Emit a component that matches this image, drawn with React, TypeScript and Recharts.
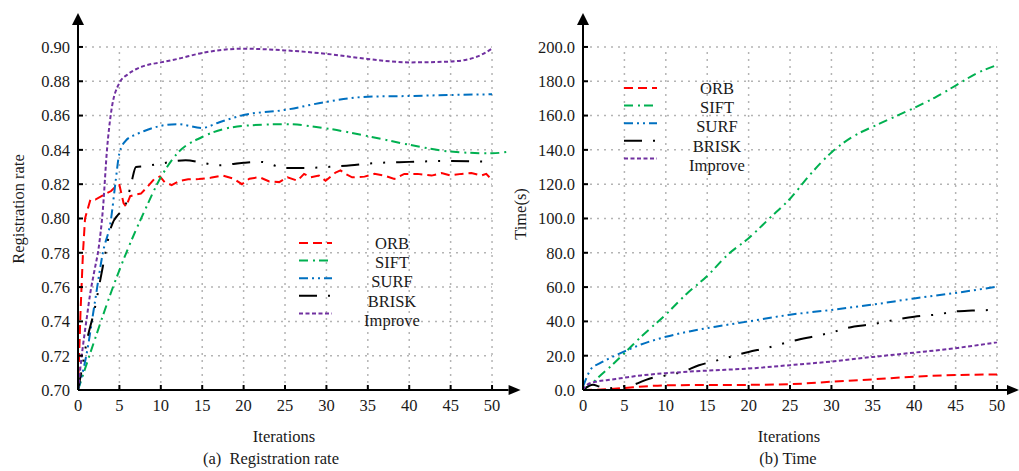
import React from "react";
import { LineChart, Line, XAxis, YAxis, ReferenceLine, ReferenceDot, Legend } from "recharts";

// shared axes
const iterTicks = [0, 5, 10, 15, 20, 25, 30, 35, 40, 45, 50];
const rateTicks = [0.7, 0.72, 0.74, 0.76, 0.78, 0.8, 0.82, 0.84, 0.86, 0.88, 0.9];
const timeTicks = [0, 20, 40, 60, 80, 100, 120, 140, 160, 180, 200];

// (a) registration rate
const orbRateX = [0, 0.3, 0.6, 0.85, 1.2, 1.5, 2.1, 3, 4, 4.6, 5, 5.5, 5.8, 6.3, 7, 7.6, 8.3, 9.2, 9.9, 10.5, 11.3, 12.3, 13.3, 14.6, 16, 17.4, 18.8, 19.8, 20.7, 21.9, 23.1, 24.3, 25.3, 26.5, 27.3, 28.1, 29.1, 29.9, 31.1, 31.7, 32.3, 33.1, 34.6, 35.8, 37, 38.2, 39.4, 41, 42.7, 43.9, 45, 46.3, 47.5, 48.7, 49.3, 49.7, 50];
const orbRateY = [0.7, 0.745, 0.78, 0.8, 0.806, 0.811, 0.811, 0.8135, 0.816, 0.819, 0.8195, 0.809, 0.807, 0.813, 0.814, 0.8145, 0.818, 0.823, 0.8245, 0.821, 0.8195, 0.822, 0.8228, 0.823, 0.8237, 0.8251, 0.8232, 0.82, 0.8232, 0.8241, 0.8216, 0.8212, 0.824, 0.822, 0.826, 0.824, 0.825, 0.822, 0.8268, 0.828, 0.826, 0.824, 0.8244, 0.826, 0.825, 0.823, 0.826, 0.826, 0.825, 0.8265, 0.8251, 0.826, 0.8265, 0.825, 0.826, 0.824, 0.823];
const siftRateX = [0, 2, 4, 6, 8, 10, 12, 15, 20, 25, 30, 35, 40, 45, 50, 52];
const siftRateY = [0.7, 0.729, 0.757, 0.782, 0.804, 0.824, 0.838, 0.8475, 0.854, 0.855, 0.8525, 0.848, 0.843, 0.839, 0.838, 0.839];
const surfRateX = [0, 1, 2, 3, 4, 4.5, 5, 5.7, 7, 8, 10, 12, 15, 17, 20, 25, 30, 35, 40, 45, 50];
const surfRateY = [0.7, 0.72, 0.75, 0.78, 0.8, 0.82, 0.838, 0.845, 0.849, 0.851, 0.854, 0.855, 0.8528, 0.856, 0.8603, 0.8633, 0.868, 0.871, 0.8714, 0.872, 0.8724];
const briskRateX = [0, 0.5, 1, 2, 3, 4, 5, 5.5, 6, 6.5, 7, 8, 10, 13, 15, 17, 20, 22, 25, 28, 30, 33, 35, 40, 45, 50];
const briskRateY = [0.7, 0.713, 0.727, 0.747, 0.772, 0.795, 0.803, 0.805, 0.812, 0.822, 0.83, 0.8305, 0.832, 0.834, 0.8325, 0.831, 0.8325, 0.833, 0.8295, 0.8295, 0.83, 0.831, 0.832, 0.833, 0.8335, 0.833];
const improveRateX = [0, 0.5, 1, 1.5, 2, 2.5, 3, 3.5, 4, 5, 6, 7, 8, 10, 12, 15, 20, 25, 30, 35, 40, 45, 48, 50];
const improveRateY = [0.7, 0.722, 0.74, 0.757, 0.77, 0.783, 0.805, 0.84, 0.862, 0.879, 0.884, 0.887, 0.889, 0.891, 0.893, 0.8965, 0.899, 0.898, 0.896, 0.893, 0.891, 0.8915, 0.894, 0.899];

// (b) time
const orbTimeX = [0, 3, 5, 8, 10, 15, 20, 25, 30, 35, 40, 45, 50];
const orbTimeY = [0, 0.5, 1.2, 2.3, 2.7, 2.9, 3.0, 3.4, 4.8, 6.2, 7.8, 8.7, 9.1];
const siftTimeX = [0, 1, 2, 3, 5, 7, 10, 12.5, 15, 17.5, 20, 22.5, 25, 27.5, 30, 32.5, 35, 37.5, 40, 42.5, 45, 47.5, 50];
const siftTimeY = [0, 3.5, 8, 12.3, 21.5, 31, 44, 56, 66.5, 79, 88.5, 100, 111.5, 126, 138.5, 147.5, 153.5, 159, 164.5, 170.5, 177.5, 184.5, 189.5];
const surfTimeX = [0, 0.5, 1, 2, 3, 5, 7, 10, 13, 16, 20, 25, 30, 35, 40, 45, 50];
const surfTimeY = [2, 8, 12.5, 15.5, 18, 22.5, 26.5, 31, 34.3, 36.9, 40, 43.9, 46.7, 49.8, 53.4, 56.6, 60.2];
const briskTimeX = [0, 1.2, 2, 3, 4.5, 6, 8, 10, 12, 14, 16, 18, 20, 22, 25, 28, 30, 32, 35, 38, 40, 43, 45, 47, 50];
const briskTimeY = [0, 3, 2, 1, 1.9, 3, 6.6, 8.5, 10.6, 14.4, 17, 19.6, 22.2, 24.3, 28.2, 31.4, 33.5, 36.3, 38.4, 41.2, 42.7, 44.2, 45.8, 46.3, 46.7];
const improveTimeX = [0, 0.5, 1.5, 3, 5, 7, 10, 15, 20, 25, 30, 35, 40, 45, 50];
const improveTimeY = [0, 3, 4.8, 5.8, 7.2, 8.5, 9.8, 11.3, 12.5, 14.5, 16.6, 19.3, 21.8, 24.4, 27.8];

const zip = (xs: number[], ys: number[]) => xs.map((x, i) => ({ x, y: ys[i] }));

const styles = [
  { name: "ORB", color: "#ff0000", dash: "9 5" },
  { name: "SIFT", color: "#00b050", dash: "9 5 2 4" },
  { name: "SURF", color: "#0070c0", dash: "9 4 2 4 2 4" },
  { name: "BRISK", color: "#000000", dash: "18 11 2 11 2 11" },
  { name: "Improve", color: "#7030a0", dash: "4 2.5" },
];

const rateSeries = [
  { data: zip(orbRateX, orbRateY), curve: "linear" },
  { data: zip(siftRateX, siftRateY), curve: "monotone" },
  { data: zip(surfRateX, surfRateY), curve: "monotone" },
  { data: zip(briskRateX, briskRateY), curve: "monotone" },
  { data: zip(improveRateX, improveRateY), curve: "monotone" },
];
const timeSeries = [
  { data: zip(orbTimeX, orbTimeY), curve: "monotone" },
  { data: zip(siftTimeX, siftTimeY), curve: "monotone" },
  { data: zip(surfTimeX, surfTimeY), curve: "monotone" },
  { data: zip(briskTimeX, briskTimeY), curve: "monotone" },
  { data: zip(improveTimeX, improveTimeY), curve: "monotone" },
];

const FONT = "'Liberation Serif', 'Times New Roman', serif";
const tickStyle = { fontFamily: FONT, fontSize: 16.5, fill: "#1a1a1a" };

const LegendBox = () => (
  <svg width={150} height={100}>
    {styles.map((s, i) => (
      <g key={s.name}>
        <line x1={0} x2={33} y1={8 + 17.6 * i} y2={8 + 17.6 * i} stroke={s.color} strokeWidth={2} strokeDasharray={s.dash} />
        <text x={93} y={8 + 19.3 * i} dy="0.35em" textAnchor="middle" style={tickStyle}>
          {s.name}
        </text>
      </g>
    ))}
  </svg>
);

const arrowRight = (p: any) => (
  <path d={`M${p.cx},${p.cy - 5} L${p.cx + 12},${p.cy} L${p.cx},${p.cy + 5} Z`} fill="#000" />
);
const arrowUp = (p: any) => (
  <path d={`M${p.cx - 6},${p.cy} L${p.cx},${p.cy - 12} L${p.cx + 6},${p.cy} Z`} fill="#000" />
);

type PanelProps = {
  width: number;
  series: { data: { x: number; y: number }[]; curve: string }[];
  xMax: number;
  yDomain: [number, number];
  yTicks: number[];
  yFmt: (v: number) => string;
  marginLeft: number;
  marginRight: number;
  yWidth: number;
  legendLeft: number;
  legendTop: number;
};

function Panel({ width, series, xMax, yDomain, yTicks, yFmt, marginLeft, marginRight, yWidth, legendLeft, legendTop }: PanelProps) {
  const yMin = yDomain[0];
  const yTop = yTicks[yTicks.length - 1];
  const gridStyle = { stroke: "#b4b4b4", strokeWidth: 1.5, strokeDasharray: "2 5" };
  return (
    <LineChart width={width} height={471} margin={{ top: 25, right: marginRight, bottom: 51, left: marginLeft }}>
      <XAxis
        dataKey="x"
        type="number"
        domain={[0, xMax]}
        allowDataOverflow
        ticks={iterTicks}
        height={30}
        tick={tickStyle}
        tickSize={-5}
        tickMargin={14}
        axisLine={{ stroke: "#000", strokeWidth: 2 }}
        tickLine={{ stroke: "#000", strokeWidth: 2 }}
      />
      <YAxis
        type="number"
        domain={yDomain}
        allowDataOverflow
        ticks={yTicks}
        width={yWidth}
        tick={tickStyle}
        tickFormatter={yFmt}
        tickSize={-5}
        tickMargin={13}
        axisLine={{ stroke: "#000", strokeWidth: 2 }}
        tickLine={{ stroke: "#000", strokeWidth: 2 }}
      />
      {yTicks.slice(1).map((t) => (
        <ReferenceLine key={"h" + t} segment={[{ x: 0, y: t }, { x: 50, y: t }]} {...gridStyle} />
      ))}
      {iterTicks.slice(1).map((t) => (
        <ReferenceLine key={"v" + t} segment={[{ x: t, y: yMin }, { x: t, y: yTop }]} {...gridStyle} />
      ))}
      {series.map((s, i) => (
        <Line
          key={styles[i].name}
          data={s.data}
          dataKey="y"
          name={styles[i].name}
          type={s.curve as any}
          stroke={styles[i].color}
          strokeWidth={2}
          strokeDasharray={styles[i].dash}
          dot={false}
          activeDot={false}
          isAnimationActive={false}
        />
      ))}
      <ReferenceDot x={xMax} y={yMin} r={0} ifOverflow="visible" shape={arrowRight} />
      <ReferenceDot x={0} y={yDomain[1]} r={0} ifOverflow="visible" shape={arrowUp} />
      <Legend
        layout="vertical"
        align="center"
        verticalAlign="middle"
        content={<LegendBox />}
        wrapperStyle={{ left: legendLeft, top: legendTop, width: 150, height: 100 }}
      />
    </LineChart>
  );
}

const label = (left: number, top: number, text: string, rotate = false) => (
  <div
    style={{
      position: "absolute",
      left,
      top,
      transform: `translate(-50%, -50%)${rotate ? " rotate(-90deg)" : ""}`,
      whiteSpace: "pre",
      fontFamily: FONT,
      fontSize: 16.5,
      color: "#1a1a1a",
      lineHeight: 1,
    }}
  >
    {text}
  </div>
);

export default function App() {
  return (
    <div style={{ position: "absolute", left: 0, top: 0, width: 1019, height: 471, background: "#fff", overflow: "hidden" }}>
      <div style={{ position: "absolute", left: 0, top: 0 }}>
        <Panel
          width={530}
          series={rateSeries}
          xMax={52}
          yDomain={[0.7, 0.9128]}
          yTicks={rateTicks}
          yFmt={(v) => v.toFixed(2)}
          marginLeft={38}
          marginRight={21.4}
          yWidth={40}
          legendLeft={299}
          legendTop={235}
        />
      </div>
      <div style={{ position: "absolute", left: 510, top: 0 }}>
        <Panel
          width={509}
          series={timeSeries}
          xMax={51.2}
          yDomain={[0, 212.8]}
          yTicks={timeTicks}
          yFmt={(v) => v.toFixed(1)}
          marginLeft={28}
          marginRight={12}
          yWidth={45}
          legendLeft={114}
          legendTop={80}
        />
      </div>
      {label(19, 209, "Registration rate", true)}
      {label(521, 214, "Time(s)", true)}
      {label(284, 437, "Iterations")}
      {label(271, 459, "(a)  Registration rate")}
      {label(789, 437, "Iterations")}
      {label(788, 459, "(b) Time")}
    </div>
  );
}
